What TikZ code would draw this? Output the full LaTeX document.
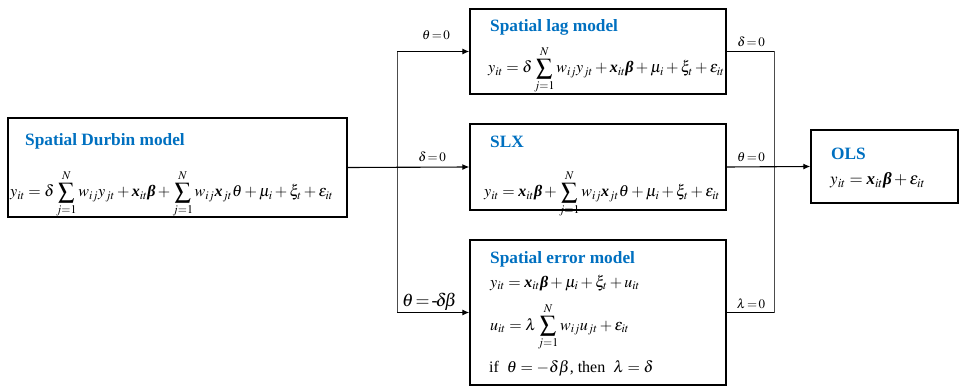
\documentclass[tikz,border=0pt]{standalone}
\usepackage{amsmath}
\usepackage{mathptmx}
\usepackage{fontspec}
\setmainfont{Liberation Serif}
\usetikzlibrary{arrows.meta}
\definecolor{ttl}{RGB}{0,112,192}
\newcommand{\bx}{\text{\bfseries\itshape x}}
\newcommand{\bbeta}{\text{\bfseries\itshape β}}
\begin{document}
\begin{tikzpicture}[x=1pt,y=-1pt,
  box/.style={draw,line width=1.4pt,inner sep=0pt},
  ttltext/.style={anchor=base west,inner sep=0pt,text=ttl,font=\fontsize{17.3}{20}\selectfont\bfseries},
  eqtext/.style={anchor=base west,inner sep=0pt,font=\fontsize{16}{19}\selectfont},
  lbl/.style={anchor=base,inner sep=0pt,font=\fontsize{13}{15}\selectfont},
  conn/.style={line width=1.1pt,-{Latex[length=7pt,width=6pt]}},
  bus/.style={line width=0.8pt,draw=black!70}]
\useasboundingbox (0,0) rectangle (960,387);
% boxes
\node[box,minimum width=339pt,minimum height=99pt] (sdm) at (177.5,167.5) {};
\node[box,minimum width=256pt,minimum height=85pt] (lag) at (598,51.5) {};
\node[box,minimum width=256pt,minimum height=86pt] (slx) at (598,167) {};
\node[box,minimum width=256pt,minimum height=145pt] (sem) at (598,312.5) {};
\node[box,minimum width=147pt,minimum height=73pt] (ols) at (884.5,166.5) {};
% titles
\node[ttltext] (sdmt) at (25,146) {Spatial Durbin model};
\node[ttltext] (lagt) at (490,32) {Spatial lag model};
\node[ttltext] (slxt) at (490,148) {SLX};
\node[ttltext] (semt) at (490,263) {Spatial error model};
\node[ttltext] (olst) at (831,160) {OLS};
% equations
\node[eqtext] (sdme) at (10,197) {$y_{it}=\delta\displaystyle\sum_{j=1}^{N}w_{ij}y_{jt}+\bx_{it}\bbeta+\sum_{j=1}^{N}w_{ij}\bx_{jt}\theta+\mu_i+\xi_t+\varepsilon_{it}$};
\node[eqtext] (lage) at (488,73) {$y_{it}=\delta\displaystyle\sum_{j=1}^{N}w_{ij}y_{jt}+\bx_{it}\bbeta+\mu_i+\xi_t+\varepsilon_{it}$};
\node[eqtext] (slxe) at (484,197) {$y_{it}=\bx_{it}\bbeta+\displaystyle\sum_{j=1}^{N}w_{ij}\bx_{jt}\theta+\mu_i+\xi_t+\varepsilon_{it}$};
\node[eqtext] (seme1) at (490,287) {$y_{it}=\bx_{it}\bbeta+\mu_i+\xi_t+u_{it}$};
\node[eqtext] (seme2) at (490,330) {$u_{it}=\lambda\displaystyle\sum_{j=1}^{N}w_{ij}u_{jt}+\varepsilon_{it}$};
\node[eqtext] (seme3) at (489,372) {if\ \ $\theta=-\delta\beta$, then\ \ $\lambda=\delta$};
\node[eqtext,font=\fontsize{17}{20}\selectfont] (olse) at (830,185) {$y_{it}=\bx_{it}\bbeta+\varepsilon_{it}$};
% connectors left
\coordinate (jtop) at (397,51.5);
\coordinate (jbot) at (397,312.5);
\draw[bus] (jtop) -- (jbot);
\draw[conn] (sdm.east) -- (slx.west);
\draw[conn] (jtop) -- (lag.west);
\draw[conn] (jbot) -- (sem.west);
% connectors right
\coordinate (rtop) at (774,51.5);
\coordinate (rbot) at (774,312.5);
\draw[bus] (rtop) -- (rbot);
\draw[line width=1.1pt] (lag.east) -- (rtop);
\draw[line width=1.1pt] (sem.east) -- (rbot);
\draw[conn] (slx.east) -- (ols.west);
% labels
\node[lbl] (l1) at (436,40) {$\theta\!=\!0$};
\node[lbl] (l2) at (432,162) {$\delta\!=\!0$};
\node[lbl,anchor=base west,font=\fontsize{18}{21}\selectfont] (l3) at (402,306) {$\theta\!=\!\text{-}\!\delta\!\beta$};
\node[lbl] (r1) at (751,47) {$\delta\!=\!0$};
\node[lbl] (r2) at (751,162) {$\theta\!=\!0$};
\node[lbl] (r3) at (751,308) {$\lambda\!=\!0$};
\end{tikzpicture}
\end{document}
